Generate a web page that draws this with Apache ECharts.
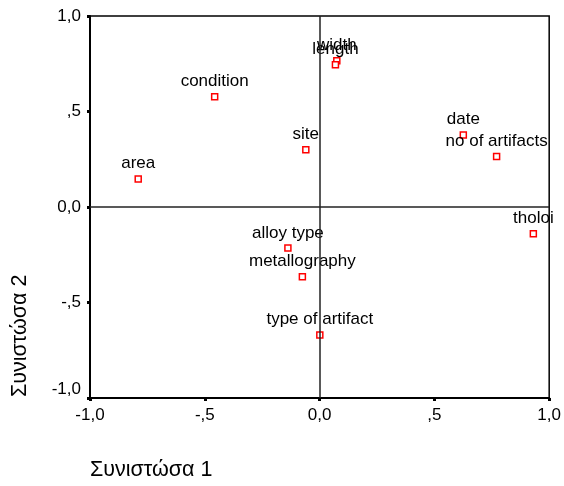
<!DOCTYPE html>
<html>
<head>
<meta charset="utf-8">
<script src="https://cdn.jsdelivr.net/npm/echarts@6/dist/echarts.min.js"></script>
<style>
html,body{margin:0;padding:0;background:#fff;}
#c{width:564px;height:486px;}
</style>
</head>
<body>
<div id="c"></div>
<script>
var names = ["area","condition","width","length","site","date","no of artifacts","tholoi","alloy type","metallography","type of artifact"];
var comp1 = [-0.79, -0.457, 0.075, 0.069, -0.06, 0.626, 0.771, 0.931, -0.138, -0.075, 0.001];
var comp2 = [0.147, 0.577, 0.766, 0.745, 0.30, 0.377, 0.265, -0.14, -0.215, -0.365, -0.67];
var tickValues = [-1, -0.5, 0, 0.5, 1];
var tickLabels = ["-1,0", "-,5", "0,0", ",5", "1,0"];
var xTitle = "Συνιστώσα 1";
var yTitle = "Συνιστώσα 2";

var FONT = "'Liberation Sans', Arial, sans-serif";
function fmt(v){
  for (var i=0;i<tickValues.length;i++){ if (Math.abs(v-tickValues[i])<1e-9) return tickLabels[i]; }
  return "";
}
var pts = names.map(function(n,i){ return {name:n, value:[comp1[i], comp2[i]]}; });

var chart = echarts.init(document.getElementById('c'), null, {renderer:'canvas'});
chart.setOption({
  animation:false,
  backgroundColor:'#fff',
  grid:{left:90, right:14, top:16, bottom:88, show:true, borderColor:'#000', borderWidth:1.5, backgroundColor:'transparent'},
  xAxis:{type:'value', min:-1, max:1, interval:0.5,
    axisLine:{onZero:false, lineStyle:{color:'#000', width:2}},
    axisTick:{show:true, inside:false, length:3, lineStyle:{color:'#000', width:3}},
    axisLabel:{formatter:fmt, color:'#000', fontSize:17, fontFamily:FONT, margin:9},
    splitLine:{show:false}},
  yAxis:{type:'value', min:-1, max:1, interval:0.5,
    axisLine:{onZero:false, lineStyle:{color:'#000', width:2}},
    axisTick:{show:true, inside:false, length:3, lineStyle:{color:'#000', width:3}},
    axisLabel:{formatter:fmt, color:'#000', fontSize:17, fontFamily:FONT, margin:9, verticalAlignMinLabel:'bottom'},
    splitLine:{show:false}},
  graphic:[
    {type:'text', left:90, top:459, style:{text:xTitle, fill:'#000', font:'21.5px ' + FONT}},
    {type:'text', x:9, y:397, rotation:Math.PI/2, style:{text:yTitle, fill:'#000', font:'21.5px ' + FONT, textAlign:'left', textVerticalAlign:'top'}}
  ],
  series:[{
    type:'scatter',
    data:pts,
    symbol:'rect',
    symbolSize:6,
    itemStyle:{color:'#fff', borderColor:'#ff0000', borderWidth:1.5, opacity:1},
    label:{show:true, position:'top', distance:3, formatter:'{b}', color:'#000', fontSize:17, fontFamily:FONT},
    markLine:{silent:true, symbol:['none','none'], label:{show:false},
      lineStyle:{color:'#222', width:1.5, type:'solid'},
      data:[{xAxis:0},{yAxis:0}]},
    z:3
  }]
});
</script>
</body>
</html>
